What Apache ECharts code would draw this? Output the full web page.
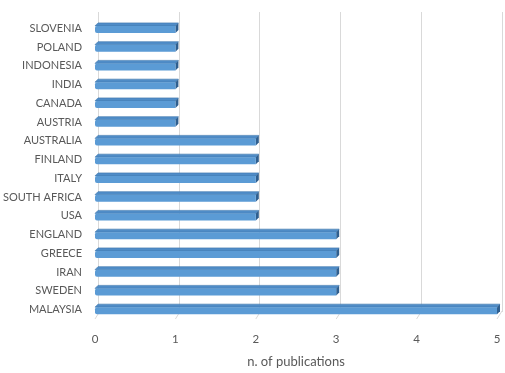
<!DOCTYPE html>
<html><head><meta charset="utf-8">
<script src="https://cdn.jsdelivr.net/npm/echarts@6/dist/echarts.min.js"></script>
<style>html,body{margin:0;padding:0;background:#fff}#c{width:505px;height:373px}</style>
</head><body><div id="c"></div>
<script>
const countries = ['MALAYSIA','SWEDEN','IRAN','GREECE','ENGLAND','USA','SOUTH AFRICA','ITALY','FINLAND','AUSTRALIA','AUSTRIA','CANADA','INDIA','INDONESIA','POLAND','SLOVENIA'];
const publications = [5,3,3,3,3,2,2,2,2,2,1,1,1,1,1,1];
const xTicks = [0,1,2,3,4,5];
const axisTitle = 'n. of publications';

const chart = echarts.init(document.getElementById('c'));
const font = 'Lato, "Open Sans", sans-serif';
const D = 4;
chart.setOption({
  animation: false,
  grid: [
    {left: 93, right: 8, top: 19, bottom: 53},
    {left: 93 + D + 1, right: 8 - D - 1, top: 12, bottom: 53 + D + 4}
  ],
  xAxis: [
    {gridIndex: 0, type: 'value', min: 0, max: 5, interval: 1,
     axisLine: {show: false}, axisTick: {show: false}, splitLine: {show: false},
     axisLabel: {color: '#595959', fontSize: 11.5, fontFamily: font, margin: 14},
     name: axisTitle, nameLocation: 'middle', nameGap: 36,
     nameTextStyle: {color: '#595959', fontSize: 13, fontFamily: font}},
    {gridIndex: 1, type: 'value', min: 0, max: 5, interval: 1,
     axisLine: {show: false}, axisTick: {show: false}, axisLabel: {show: false},
     splitLine: {show: true, lineStyle: {color: '#D9D9D9', width: 1}}}
  ],
  yAxis: [
    {gridIndex: 0, type: 'category', data: countries,
     axisLine: {show: false}, axisTick: {show: false},
     axisLabel: {color: '#595959', fontSize: 11, fontFamily: font, margin: 13}},
    {gridIndex: 1, type: 'category', data: countries, show: false}
  ],
  series: [
    {
      type: 'custom', xAxisIndex: 0, yAxisIndex: 0,
      data: xTicks.map(t => [t]),
      renderItem: function (params, api) {
        const p = api.coord([api.value(0), 0]);
        const yb = params.coordSys.y + params.coordSys.height;
        return {type: 'line', shape: {x1: p[0], y1: yb, x2: p[0] + D + 1, y2: yb - D - 4},
          style: {stroke: '#D9D9D9', lineWidth: 1}};
      }
    },
    {
      type: 'custom', xAxisIndex: 0, yAxisIndex: 0,
      data: publications.map((v, i) => [v, i]),
      encode: {x: 0, y: 1},
      renderItem: function (params, api) {
        const v = api.value(0), i = api.value(1);
        const s = api.coord([0, i]);
        const e = api.coord([v, i]);
        const h = 7;
        const x0 = s[0], x1 = e[0], y0 = s[1] - h / 2 + 1, y1 = s[1] + h / 2 + 1;
        const d = 3;
        return {type: 'group', children: [
          {type: 'polygon', shape: {points: [[x0, y0], [x0 + d, y0 - d], [x1 + d, y0 - d], [x1, y0]]},
           style: {fill: '#4F8CC7', stroke: '#3E77AD', lineWidth: 0.6}},
          {type: 'polygon', shape: {points: [[x1, y0], [x1 + d, y0 - d], [x1 + d, y1 - d], [x1, y1]]},
           style: {fill: '#2F5F8F'}},
          {type: 'rect', shape: {x: x0, y: y0, width: x1 - x0, height: h, r: [2, 0, 0, 2]},
           style: {fill: '#5B9BD5'}}
        ]};
      }
    }
  ]
});
</script></body></html>
